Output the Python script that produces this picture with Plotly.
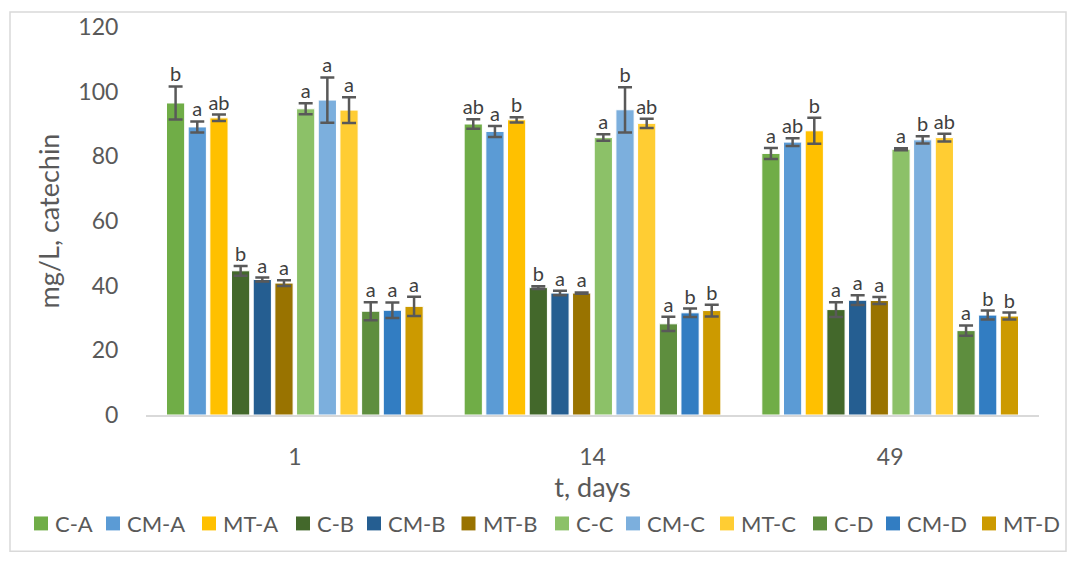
import plotly.graph_objects as go

days = ["1", "14", "49"]
series = ["C-A", "CM-A", "MT-A", "C-B", "CM-B", "MT-B",
          "C-C", "CM-C", "MT-C", "C-D", "CM-D", "MT-D"]
colors = ["#70AD47", "#5B9BD5", "#FFC000", "#43682B", "#255E91", "#997300",
          "#8CC168", "#7CAFDD", "#FFCD33", "#5E8E3E", "#327DC2", "#CC9A00"]

C_A = [96.5, 90.0, 80.9]
CM_A = [89.1, 87.7, 84.4]
MT_A = [91.9, 91.3, 87.9]
C_B = [44.6, 39.4, 32.6]
CM_B = [41.9, 37.7, 35.5]
MT_B = [40.8, 37.7, 35.4]
C_C = [94.7, 85.8, 82.2]
CM_C = [97.4, 94.4, 85.1]
MT_C = [94.3, 90.2, 85.8]
C_D = [32.1, 28.2, 26.1]
CM_D = [32.4, 31.6, 30.9]
MT_D = [33.6, 32.3, 30.6]

err_C_A = [5.1, 1.5, 1.7]
err_CM_A = [1.7, 1.7, 1.2]
err_MT_A = [1.0, 0.8, 4.0]
err_C_B = [1.5, 0.4, 2.3]
err_CM_B = [0.6, 0.7, 1.5]
err_MT_B = [0.9, 0.2, 1.1]
err_C_C = [1.7, 1.0, 0.3]
err_CM_C = [7.0, 7.0, 1.1]
err_MT_C = [4.0, 1.4, 1.2]
err_C_D = [2.8, 2.2, 1.6]
err_CM_D = [2.4, 1.3, 1.4]
err_MT_D = [3.0, 1.8, 1.1]

let_C_A = ["b", "ab", "a"]
let_CM_A = ["a", "a", "ab"]
let_MT_A = ["ab", "b", "b"]
let_C_B = ["b", "b", "a"]
let_CM_B = ["a", "a", "a"]
let_MT_B = ["a", "a", "a"]
let_C_C = ["a", "a", "a"]
let_CM_C = ["a", "b", "b"]
let_MT_C = ["a", "ab", "ab"]
let_C_D = ["a", "a", "a"]
let_CM_D = ["a", "b", "b"]
let_MT_D = ["a", "b", "b"]

values = [C_A, CM_A, MT_A, C_B, CM_B, MT_B, C_C, CM_C, MT_C, C_D, CM_D, MT_D]
errors = [err_C_A, err_CM_A, err_MT_A, err_C_B, err_CM_B, err_MT_B,
          err_C_C, err_CM_C, err_MT_C, err_C_D, err_CM_D, err_MT_D]
letters = [let_C_A, let_CM_A, let_MT_A, let_C_B, let_CM_B, let_MT_B,
           let_C_C, let_CM_C, let_MT_C, let_C_D, let_CM_D, let_MT_D]

FONT = "Lato"
GRAY = "#595959"

# layout geometry (pixels)
W, H = 1076, 561
ML, MR, MT, MB = 146, 37, 25, 146
PW, PH = W - ML - MR, H - MT - MB


def px_x(p):
    return (p - ML) / PW


def px_y(p):
    return (H - MB - p) / PH


# legend item left edges (pixels), legend row centre
legend_left = [34, 106, 202, 296, 367, 461.5, 555, 626, 720, 813, 886, 982]
legend_cy = 524
SQ = 14

fig = go.Figure()
for name, col, v, e in zip(series, colors, values, errors):
    fig.add_trace(go.Bar(
        name=name, x=days, y=v,
        marker=dict(color=col, line=dict(color="white", width=1)),
        error_y=dict(type="data", array=e, visible=True, color=GRAY, thickness=2.5, width=7),
        showlegend=False,
    ))
for name, v, e, l in zip(series, values, errors, letters):
    fig.add_trace(go.Scatter(
        x=days, y=[a + b for a, b in zip(v, e)], text=l, mode="text",
        textposition="top center", textfont=dict(family=FONT, size=20, color="#404040"),
        showlegend=False, hoverinfo="skip",
    ))

shapes = [dict(type="rect", xref="paper", yref="paper",
               x0=px_x(10), x1=px_x(1066), y0=px_y(552), y1=px_y(10),
               line=dict(color="#D9D9D9", width=1.5), fillcolor="rgba(0,0,0,0)", layer="below")]
annotations = []
for name, col, lx in zip(series, colors, legend_left):
    shapes.append(dict(type="rect", xref="paper", yref="paper",
                       x0=px_x(lx), x1=px_x(lx + SQ),
                       y0=px_y(legend_cy + SQ / 2), y1=px_y(legend_cy - SQ / 2),
                       line=dict(width=0), fillcolor=col))
    annotations.append(dict(xref="paper", yref="paper", x=px_x(lx + SQ + 5), y=px_y(legend_cy),
                            xanchor="left", yanchor="middle", showarrow=False, text=name,
                            font=dict(family=FONT, size=22, color=GRAY)))

fig.update_layout(
    width=W, height=H,
    margin=dict(l=ML, r=MR, t=MT, b=MB),
    paper_bgcolor="white", plot_bgcolor="white",
    barmode="group", bargap=0.126, bargroupgap=0.16,
    scattermode="group", scattergap=0.126,
    font=dict(family=FONT, color=GRAY),
    showlegend=False,
    xaxis=dict(showline=True, linecolor="#D9D9D9", linewidth=2, ticks="outside",
               ticklen=20, tickcolor="rgba(0,0,0,0)", tickfont=dict(size=23, color=GRAY),
               title=dict(text="t, days", font=dict(size=27, color=GRAY), standoff=0),
               showgrid=False, zeroline=False),
    yaxis=dict(range=[0, 120], dtick=20, showgrid=False, zeroline=False, showline=False,
               ticks="outside", ticklen=22, tickcolor="rgba(0,0,0,0)",
               tickfont=dict(size=23, color=GRAY),
               title=dict(text="mg/L, catechin", font=dict(size=27, color=GRAY), standoff=10)),
    shapes=shapes,
    annotations=annotations,
)

fig.write_html("out.html")
